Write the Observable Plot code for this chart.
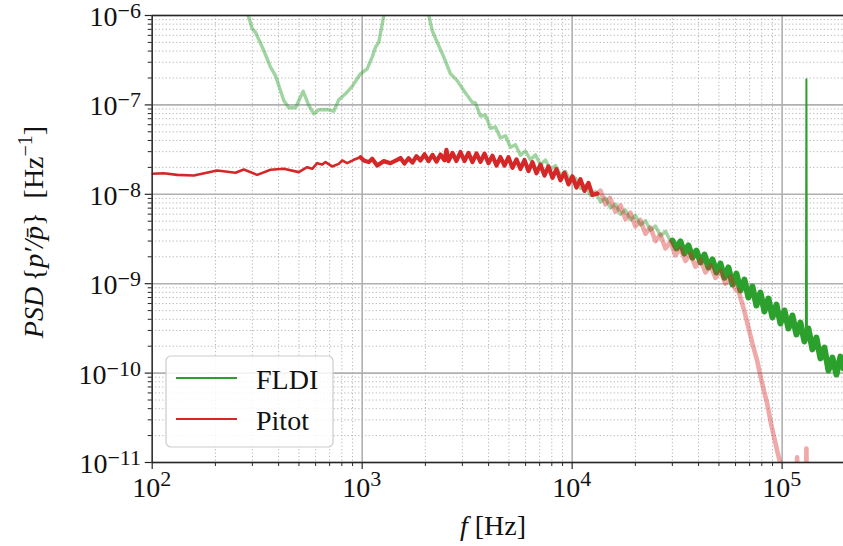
<!DOCTYPE html>
<html><head><meta charset="utf-8">
<script src="https://cdn.jsdelivr.net/npm/d3@7"></script>
<script src="https://cdn.jsdelivr.net/npm/@observablehq/plot@0.6"></script>
<style>
body{margin:0;background:#fff}
svg{display:block}
svg text, svg tspan{font-family:"Liberation Serif","Times New Roman",Times,serif}
</style>
</head><body><div id="chart"></div>
<script>
// ---- data (f in Hz, PSD in 1/Hz) ----
const fldiFreq = [263.4,288.4,299.4,310.4,340,365.9,386.5,423.3,447.2,481.3,523.6,556.8,588.3,621.4,681.3,732.3,773.6,832.6,896.4,981.5,1056,1116,1157,1200,1268,1522,1736,1895,2076,2154,2276,2447,2634,2835,3047,3172,3341,3463,3659,3865,4083,4313,4557,4813,5084,5370,5673,5993,6330,6687,7063,7462,7883,8327,8798,9292,9815,10370,10950,11570,12220,12910,13640,14410,15220,16070,16980,17940,18950,20020,21150,22340,23600,24930,26340,27820,29390,30040,31380,32790,34260,35790,37410,39080,40830,42660,44570,46570,48650,50840,53110,55500,57980,60580,63300,66150,69100,72210,75440,78830,82360,86060,89910,93940,98150,102600,107200,111900,117000,122200,127700,129800,130500,131200,133400,139400,145600,152200,159000,166200,173600,181400,189500,195900];
const fldiPsd = [1.90e-6,9.57e-7,7.10e-7,6.50e-7,4.06e-7,2.64e-7,2.13e-7,1.12e-7,9.28e-8,9.28e-8,1.42e-7,9.85e-8,7.95e-8,8.81e-8,8.88e-8,8.50e-8,1.14e-7,1.33e-7,1.61e-7,2.23e-7,2.53e-7,3.42e-7,4.42e-7,5.03e-7,1.00e-6,4.69e-6,6.07e-6,4.12e-6,1.00e-6,6.80e-7,5.03e-7,3.42e-7,2.23e-7,1.87e-7,1.45e-7,1.27e-7,1.07e-7,1.05e-7,7.51e-8,7.71e-8,5.47e-8,5.66e-8,4.26e-8,4.52e-8,3.35e-8,3.58e-8,2.74e-8,3.05e-8,2.43e-8,2.76e-8,2.15e-8,2.41e-8,1.88e-8,2.10e-8,1.64e-8,1.80e-8,1.38e-8,1.52e-8,1.16e-8,1.27e-8,9.75e-9,1.07e-8,8.20e-9,9.09e-9,7.03e-9,7.77e-9,6.00e-9,6.67e-9,5.18e-9,5.81e-9,4.53e-9,5.07e-9,3.96e-9,4.42e-9,3.44e-9,3.85e-9,2.99e-9,3.04e-9,2.48e-9,2.97e-9,2.18e-9,2.68e-9,1.96e-9,2.35e-9,1.73e-9,2.12e-9,1.52e-9,1.87e-9,1.34e-9,1.68e-9,1.17e-9,1.52e-9,9.80e-10,1.30e-9,8.39e-10,1.11e-9,7.01e-10,9.31e-10,5.70e-10,7.97e-10,4.89e-10,6.83e-10,4.19e-10,5.85e-10,3.59e-10,5.02e-10,3.15e-10,4.41e-10,2.70e-10,3.68e-10,2.26e-10,2.70e-10,1.97e-7,2.57e-10,3.15e-10,1.84e-10,2.50e-10,1.46e-10,1.93e-10,1.07e-10,1.49e-10,9.65e-11,1.53e-10,1.13e-10];
const fldiSolidFrom = 30040;   // FLDI drawn faded below this frequency
const fldiSpikeFreq = 130500;  // narrow tone in the FLDI spectrum
const fldiSpikeSpan = [129800, 131200];

const pitotFreq = [100,113.6,131.5,157.8,203.9,249.3,273.1,316.2,365.9,423.3,499.1,547.2,578,610.6,645,668.7,719.7,773.6,803.1,848.3,912,981.5,1018,1075,1116,1179,1268,1364,1468,1522,1590,1662,1736,1814,1895,1981,2069,2162,2259,2360,2466,2520,2576,2692,2812,2938,3070,3207,3351,3502,3659,3823,3994,4174,4361,4557,4761,4975,5196,5430,5673,5928,6194,6471,6761,7063,7381,7712,8057,8418,8798,9190,9603,10030,10480,10950,11440,11960,12490,13200,13640,14410,15140,16070,16980,17940,18950,20020,21150,22340,23600,24930,26340,27820,29390,31040,32790,34640,36590,38650,40830,43130,45560,48130,50840,53700,56730,59930,61930,63310,66150,69110,72210,76030,79700,84830,88920,94670,98150,103700,109500,117000,117900,118800,129800,130500,131200,195900];
const pitotPsd = [1.70e-8,1.72e-8,1.65e-8,1.62e-8,1.85e-8,1.74e-8,1.89e-8,1.65e-8,1.88e-8,1.93e-8,1.77e-8,2.01e-8,1.93e-8,2.23e-8,2.15e-8,2.29e-8,2.05e-8,2.19e-8,2.39e-8,2.23e-8,2.43e-8,2.60e-8,2.39e-8,2.29e-8,2.50e-8,2.10e-8,2.35e-8,2.23e-8,2.43e-8,2.55e-8,2.21e-8,2.53e-8,2.26e-8,2.67e-8,2.39e-8,2.80e-8,2.35e-8,2.76e-8,2.32e-8,2.79e-8,2.40e-8,3.15e-8,2.35e-8,2.90e-8,2.36e-8,2.97e-8,2.36e-8,2.90e-8,2.29e-8,2.86e-8,2.30e-8,2.85e-8,2.23e-8,2.70e-8,2.10e-8,2.61e-8,2.09e-8,2.60e-8,1.98e-8,2.46e-8,1.92e-8,2.42e-8,1.82e-8,2.29e-8,1.72e-8,2.15e-8,1.62e-8,2.05e-8,1.53e-8,1.91e-8,1.43e-8,1.75e-8,1.29e-8,1.59e-8,1.19e-8,1.48e-8,1.09e-8,1.34e-8,9.82e-9,1.02e-8,1.10e-8,7.71e-9,9.09e-9,6.39e-9,7.51e-9,5.29e-9,6.22e-9,4.37e-9,5.16e-9,3.62e-9,4.26e-9,3.00e-9,3.53e-9,2.48e-9,2.93e-9,2.08e-9,2.50e-9,1.80e-9,2.16e-9,1.55e-9,1.86e-9,1.34e-9,1.61e-9,1.16e-9,1.39e-9,1.00e-9,1.20e-9,8.61e-10,8.39e-10,7.01e-10,4.89e-10,3.24e-10,2.14e-10,1.38e-10,8.26e-11,4.57e-11,2.59e-11,1.36e-11,9.74e-12,4.86e-12,3.76e-12,4.0e-12,1.14e-11,3.8e-12,3.7e-12,1.43e-11,3.7e-12,3.3e-12];
const pitotSolidUntil = 13200; // Pitot drawn faded above this frequency
const pitotNoisyFrom = 1000;   // band of the Pitot line widens above this frequency

const seriesNames = ["FLDI", "Pitot"];
const seriesColors = ["#2ca02c", "#d62728"];

const xDomain = [100, 1.96e5];
const yDomain = [1e-11, 1e-6];
const xMajor = [1e2, 1e3, 1e4, 1e5];
const xMajorExp = ["2", "3", "4", "5"];
const yMajor = [1e-11, 1e-10, 1e-9, 1e-8, 1e-7, 1e-6];
const yMajorExp = ["−11", "−10", "−9", "−8", "−7", "−6"];
const minorMult = [2, 3, 4, 5, 6, 7, 8, 9];
const xMinor = xMajor.flatMap(d => minorMult.map(m => m * d)).filter(v => v <= xDomain[1]);
const yMinor = yMajor.slice(0, -1).flatMap(d => minorMult.map(m => m * d));

// ---- build tables ----
const fldi = fldiFreq.map((f, i) => ({f, psd: fldiPsd[i]}));
const pitot = pitotFreq.map((f, i) => ({f, psd: pitotPsd[i]}));

const SERIF = "'Liberation Serif','Times New Roman',serif";
const AX = "#262626";

const plot = Plot.plot({
  width: 843, height: 546,
  marginLeft: 151.7, marginRight: 0, marginTop: 15, marginBottom: 84,
  style: {background: "#fff", fontFamily: SERIF, overflow: "visible"},
  x: {type: "log", domain: xDomain},
  y: {type: "log", domain: yDomain},
  marks: [
    Plot.ruleX(xMinor, {stroke: "#b4b4b4", strokeWidth: 1, strokeDasharray: "1.2,2.3"}),
    Plot.ruleY(yMinor, {stroke: "#b4b4b4", strokeWidth: 1, strokeDasharray: "1.2,2.3"}),
    Plot.ruleX(xMajor, {stroke: "#b0b0b0", strokeWidth: 1.6}),
    Plot.ruleY(yMajor, {stroke: "#b0b0b0", strokeWidth: 1.6}),
    Plot.line(fldi.filter(d => d.f <= fldiSolidFrom), {x: "f", y: "psd", stroke: seriesColors[0], strokeOpacity: 0.45, strokeWidth: 3.4, clip: true}),
    Plot.line(fldi.filter(d => d.f >= fldiSolidFrom && d.f !== fldiSpikeFreq), {x: "f", y: "psd", stroke: seriesColors[0], strokeWidth: 6, clip: true}),
    Plot.line(fldi.filter(d => d.f >= fldiSpikeSpan[0] && d.f <= fldiSpikeSpan[1]), {x: "f", y: "psd", stroke: seriesColors[0], strokeWidth: 2, strokeLinejoin: "miter", clip: true}),
    Plot.line(pitot.filter(d => d.f <= pitotNoisyFrom), {x: "f", y: "psd", stroke: seriesColors[1], strokeWidth: 2.6, clip: true}),
    Plot.line(pitot.filter(d => d.f >= pitotNoisyFrom - 20 && d.f <= pitotSolidUntil), {x: "f", y: "psd", stroke: seriesColors[1], strokeWidth: 4.2, clip: true}),
    Plot.line(pitot.filter(d => d.f >= pitotSolidUntil), {x: "f", y: "psd", stroke: seriesColors[1], strokeOpacity: 0.4, strokeWidth: 4.6, clip: true}),
    Plot.ruleY([yDomain[1]], {stroke: AX, strokeWidth: 1.4}),
    Plot.ruleY([yDomain[0]], {stroke: AX, strokeWidth: 1.4}),
    Plot.ruleX([xDomain[0]], {stroke: AX, strokeWidth: 1.4}),
    Plot.axisX(xMajor, {anchor: "bottom", tickSize: 7, tickFormat: () => "", label: null, stroke: AX, strokeWidth: 1.2}),
    Plot.axisX(xMinor, {anchor: "bottom", tickSize: 4, tickFormat: () => "", label: null, stroke: AX, strokeWidth: 1}),
    Plot.axisY(yMajor, {anchor: "left", tickSize: 7, tickFormat: () => "", label: null, stroke: AX, strokeWidth: 1.2}),
    Plot.axisY(yMinor, {anchor: "left", tickSize: 4, tickFormat: () => "", label: null, stroke: AX, strokeWidth: 1})
  ]
});
document.getElementById("chart").appendChild(plot);

const svg = d3.select(plot);
const sx = plot.scale("x"), sy = plot.scale("y");
const g = svg.append("g").attr("font-family", SERIF).attr("fill", "#111");

// tick labels with superscripts
xMajor.forEach((v, i) => {
  const t = g.append("text").attr("x", sx.apply(v)).attr("y", 497).attr("text-anchor", "middle").attr("font-size", 28);
  t.append("tspan").text("10");
  t.append("tspan").attr("dy", -11).attr("font-size", 22).text(xMajorExp[i]);
});
yMajor.forEach((v, i) => {
  const t = g.append("text").attr("x", 141).attr("y", sy.apply(v) + 11).attr("text-anchor", "end").attr("font-size", 28);
  t.append("tspan").text("10");
  t.append("tspan").attr("dy", -8).attr("font-size", 22).text(yMajorExp[i]);
});

// axis titles
const xl = g.append("text").attr("x", 493).attr("y", 535).attr("text-anchor", "middle").attr("font-size", 28);
xl.append("tspan").attr("font-style", "italic").text("f");
xl.append("tspan").text(" [Hz]");

const yl = g.append("text").attr("transform", "translate(43,232) rotate(-90)").attr("text-anchor", "middle").attr("font-size", 28);
yl.append("tspan").attr("font-style", "italic").text("PSD");
yl.append("tspan").text("\u2009{");
yl.append("tspan").attr("font-style", "italic").text("p′/p̄");
yl.append("tspan").text("}\u2002[Hz");
yl.append("tspan").attr("dy", -11).attr("font-size", 20).text("−1");
yl.append("tspan").attr("dy", 11).text("]");

// legend
const lg = svg.append("g").attr("font-family", SERIF).attr("text-anchor", "start");
lg.append("rect").attr("x", 166).attr("y", 356).attr("width", 167).attr("height", 91).attr("rx", 5)
  .attr("fill", "#fff").attr("fill-opacity", 0.85).attr("stroke", "#cccccc").attr("stroke-width", 1.2);
const legendY = [378, 419];
seriesNames.forEach((name, i) => {
  lg.append("line").attr("x1", 176).attr("x2", 237).attr("y1", legendY[i]).attr("y2", legendY[i])
    .attr("stroke", seriesColors[i]).attr("stroke-width", 2.2);
  lg.append("text").attr("x", 256).attr("y", legendY[i] + 11).attr("text-anchor", "start")
    .attr("font-size", 28).attr("fill", "#111").text(name);
});
</script>
</body></html>
